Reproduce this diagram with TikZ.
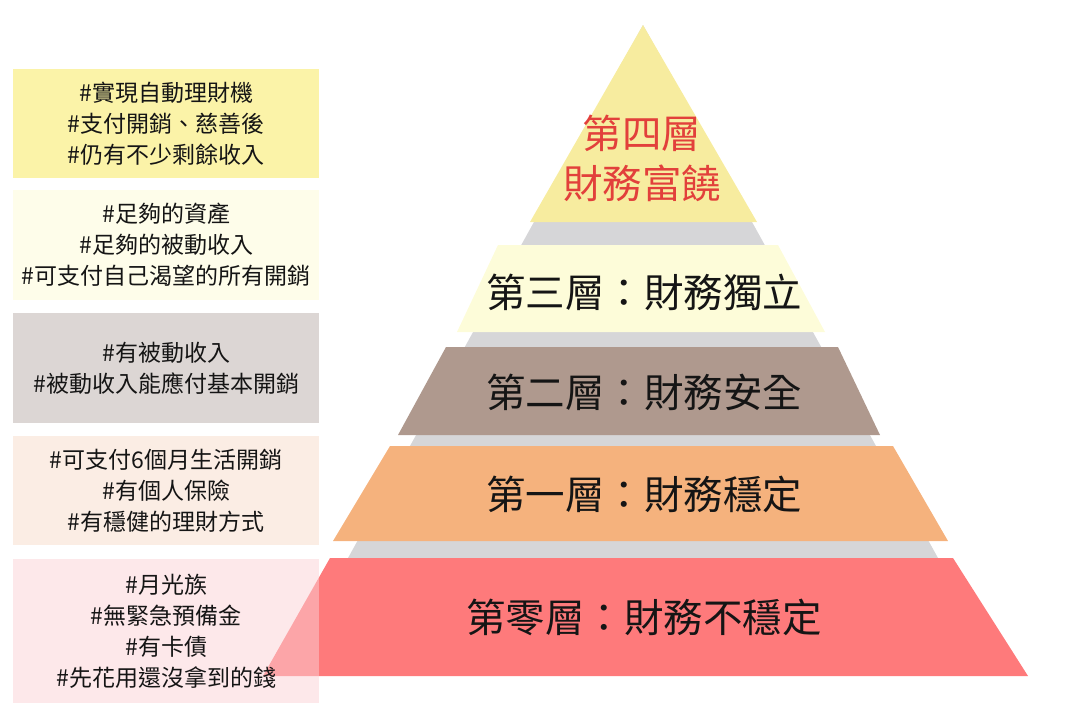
\documentclass[tikz,border=0pt]{standalone}
\usepackage{fontspec}
\setmainfont{Noto Sans CJK TC}
\usetikzlibrary{positioning}

\definecolor{backgray}{HTML}{D6D6D8}
\definecolor{layerfour}{HTML}{F7EC9F}
\definecolor{layerthree}{HTML}{FDFCD9}
\definecolor{layertwo}{HTML}{AF998E}
\definecolor{layerone}{HTML}{F5B27D}
\definecolor{layerzero}{HTML}{FE7A7B}
\definecolor{boxfour}{HTML}{F7E751}
\definecolor{boxthree}{HTML}{FDFBD5}
\definecolor{boxtwo}{HTML}{B9ADA9}
\definecolor{boxone}{HTML}{F7DBC9}
\definecolor{boxzero}{HTML}{FBD1D5}
\definecolor{titlered}{HTML}{E2403B}
\definecolor{inkblack}{HTML}{151515}

\begin{document}
\begin{tikzpicture}[
        x=1pt, y=-1pt,
        notebox/.style={rectangle, anchor=north west, minimum width=306pt, inner sep=0pt,
            align=center, fill opacity=0.5, text opacity=1, text=inkblack,
            font=\fontsize{23}{31}\selectfont},
        layerlabel/.style={align=center, inner sep=0pt, text=inkblack,
            font=\fontsize{39.5}{50}\selectfont}
    ]

    \useasboundingbox (0,0) rectangle (1065,715);

    % Gray silhouette behind the layers
    \fill[backgray] (643,25) -- (938,558) -- (348,558) -- cycle;

    % --------------------------------------------------
    % Pyramid layers, top to bottom
    \fill[layerfour]  (643,25) -- (757,222) -- (530,222) -- cycle;
    \fill[layerthree] (498,245) -- (778,245) -- (825,332) -- (457,332) -- cycle;
    \fill[layertwo]   (446,347) -- (838,347) -- (880,435) -- (398,435) -- cycle;
    \fill[layerone]   (390,446) -- (893,446) -- (948,541) -- (333,541) -- cycle;
    \fill[layerzero]  (330,558) -- (953,558) -- (1028,676) -- (263,676) -- cycle;

    % Layer labels
    \node[layerlabel, text=titlered] (lbl-four)  at (642,158) {第四層\\財務富饒};
    \node[layerlabel] (lbl-three) at (644,292) {第三層：財務獨立};
    \node[layerlabel] (lbl-two)   at (644,392) {第二層：財務安全};
    \node[layerlabel] (lbl-one)   at (644,494) {第一層：財務穩定};
    \node[layerlabel] (lbl-zero)  at (644,617) {第零層：財務不穩定};

    % --------------------------------------------------
    % Notes on the left (top y / height / colour / text)
    \foreach \n/\y/\h/\c/\t in {
        four/69/109/boxfour/{\#實現自動理財機\\\#支付開銷、慈善後\\\#仍有不少剩餘收入},
        three/190/110/boxthree/{\#足夠的資產\\\#足夠的被動收入\\\#可支付自己渴望的所有開銷},
        two/313/110/boxtwo/{\#有被動收入\\\#被動收入能應付基本開銷},
        one/436/109/boxone/{\#可支付6個月生活開銷\\\#有個人保險\\\#有穩健的理財方式},
        zero/559/144/boxzero/{\#月光族\\\#無緊急預備金\\\#有卡債\\\#先花用還沒拿到的錢}} {
        \node[notebox, fill=\c, minimum height=\h pt] (note-\n) at (13,\y) {\t};
    }

\end{tikzpicture}
\end{document}
